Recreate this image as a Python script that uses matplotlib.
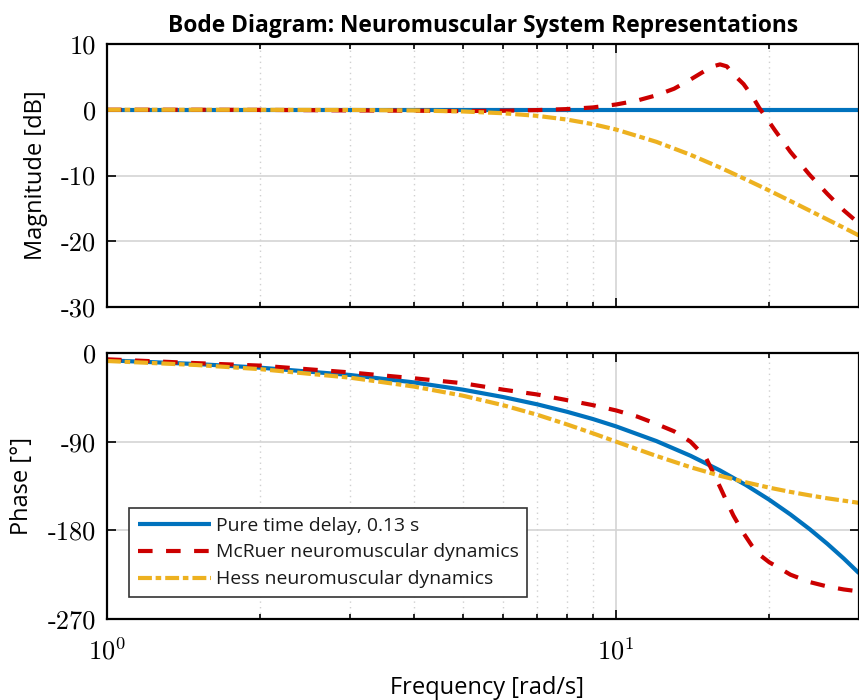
import matplotlib
matplotlib.use('Agg')
import matplotlib.pyplot as plt
from matplotlib.ticker import FixedLocator, NullFormatter, FixedFormatter
from matplotlib.font_manager import FontProperties

# ---------------- data ----------------
freq_delay = [1, 1.5, 2, 3, 4, 5, 6, 7, 8, 9, 10, 12, 14, 16, 18, 20, 22, 24, 26, 28, 30]
mag_delay = [0.0, 0.0, 0.0, 0.0, 0.0, 0.0, 0.0, 0.0, 0.0, 0.0, 0.0, 0.0, 0.0, 0.0,
             0.0, 0.0, 0.0, 0.0, 0.0, 0.0, 0.0]
phase_delay = [-7.4, -11.2, -14.9, -22.3, -29.8, -37.2, -44.7, -52.1, -59.6, -67.0, -74.5,
               -89.4, -104.3, -119.2, -134.1, -149.0, -163.9, -178.8, -193.7, -208.6, -223.5]

freq_mcruer = [1, 1.5, 2, 3, 4, 5, 6, 7, 8, 9, 10, 11, 12, 13, 14, 15, 15.5, 16, 16.5, 17,
               17.8, 18.5, 19.1, 20, 20.5, 22, 24, 26, 28, 30]
mag_mcruer = [0.0, 0.0, -0.02, -0.1, -0.15, -0.2, -0.15, -0.05, 0.1, 0.35, 0.8, 1.4, 2.2,
              3.2, 4.6, 6.0, 6.6, 6.9, 6.6, 5.4, 3.9, 2.1, 0.3, -1.9, -3.1, -6.4, -9.9,
              -12.8, -15.3, -17.3]
phase_mcruer = [-6.4, -10.3, -12.8, -19.7, -25.6, -30.7, -37.2, -42.1, -47.8, -52.9, -58.3,
                -64.5, -72.0, -79.5, -90.0, -106.0, -121.0, -136.0, -151.0, -165.0, -183.0,
                -196.0, -204.5, -212.5, -215.6, -225.0, -232.5, -237.0, -240.0, -242.0]

freq_hess = [1, 1.5, 2, 3, 4, 5, 6, 7, 8, 9, 10, 12, 14, 16, 18, 20, 22, 24, 26, 28, 30]
mag_hess = [0.0, 0.0, -0.01, -0.03, -0.11, -0.26, -0.53, -0.93, -1.49, -2.19, -3.01, -4.88,
            -6.85, -8.78, -10.61, -12.30, -13.88, -15.34, -16.69, -17.94, -19.13]
phase_hess = [-8.1, -12.2, -16.4, -25.0, -34.0, -43.3, -53.0, -62.7, -72.4, -81.5, -90.0,
              -104.5, -115.9, -124.6, -131.3, -136.7, -141.0, -144.5, -147.5, -149.9, -152.1]

series_labels = ['Pure time delay, 0.13 s', 'McRuer neuromuscular dynamics',
                 'Hess neuromuscular dynamics']
mag_ticks = [-30, -20, -10, 0, 10]
mag_ticklabels = ['-30', '-20', '-10', '0', '10']
phase_ticks = [-270, -180, -90, 0]
phase_ticklabels = ['-270', '-180', '-90', '0']
x_ticks = [1, 10]
x_ticklabels = [r'$10^{0}$', r'$10^{1}$']
minor_x = [2, 3, 4, 5, 6, 7, 8, 9, 20, 30]

title_text = 'Bode Diagram: Neuromuscular System Representations'
mag_label = 'Magnitude [dB]'
phase_label = 'Phase [°]'
freq_label = 'Frequency [rad/s]'

# ---------------- style ----------------
plt.rcParams['mathtext.fontset'] = 'cm'
plt.rcParams['lines.scale_dashes'] = False
sans = ['Open Sans', 'DejaVu Sans']
C_BLUE = '#0072BD'
C_RED = '#CC0000'
C_ORANGE = '#EDB120'
LW = 3.0
DASH_RED = (10.5, 9.7)
DASH_ORANGE = (10.0, 2.7, 4.0, 2.9)

fig = plt.figure(figsize=(8.59, 7.0), dpi=100)
W, H = 859.0, 700.0
renderer = fig.canvas.get_renderer()


def size_for_width(text, target_px, weight='normal', ref_size=20.0):
    fp = FontProperties(family=sans, size=ref_size, weight=weight)
    w, _, _ = renderer.get_text_width_height_descent(text, fp, ismath=False)
    return ref_size * target_px / w


ax1 = fig.add_axes([107 / W, (H - 307) / H, 752 / W, 263 / H])
ax2 = fig.add_axes([107 / W, (H - 619) / H, 752 / W, 266 / H])

for ax in (ax1, ax2):
    ax.set_xscale('log')
    ax.set_xlim(1, 30)
    ax.xaxis.set_major_locator(FixedLocator(x_ticks))
    ax.xaxis.set_minor_locator(FixedLocator(minor_x))
    ax.xaxis.set_minor_formatter(NullFormatter())
    ax.grid(True, which='major', color='#d4d4d4', linewidth=1.2, linestyle='-')
    ax.grid(True, which='minor', axis='x', color='#d0d0d0', linewidth=1.0,
            linestyle=(0, (1, 3)))
    ax.set_axisbelow(True)
    ax.tick_params(which='both', direction='in', top=True, right=True, width=1.2,
                   color='black')
    ax.tick_params(which='major', length=6.5)
    ax.tick_params(which='minor', length=3.4)
    ax.tick_params(axis='y', pad=8)
    ax.tick_params(axis='x', pad=14)
    for sp in ax.spines.values():
        sp.set_linewidth(1.6)
        sp.set_color('black')

# magnitude
ax1.plot(freq_delay, mag_delay, color=C_BLUE, lw=LW, solid_capstyle='butt')
ax1.plot(freq_mcruer, mag_mcruer, color=C_RED, lw=LW, linestyle='--', dashes=DASH_RED,
         dash_capstyle='butt')
ax1.plot(freq_hess, mag_hess, color=C_ORANGE, lw=LW, linestyle='-.', dashes=DASH_ORANGE,
         dash_capstyle='butt')
ax1.set_ylim(-30, 10)
ax1.yaxis.set_major_locator(FixedLocator(mag_ticks))
ax1.yaxis.set_major_formatter(FixedFormatter(mag_ticklabels))
ax1.xaxis.set_major_formatter(NullFormatter())

# phase
l1, = ax2.plot(freq_delay, phase_delay, color=C_BLUE, lw=LW, solid_capstyle='butt')
l2, = ax2.plot(freq_mcruer, phase_mcruer, color=C_RED, lw=LW, linestyle='--',
               dashes=DASH_RED, dash_capstyle='butt')
l3, = ax2.plot(freq_hess, phase_hess, color=C_ORANGE, lw=LW, linestyle='-.',
               dashes=DASH_ORANGE, dash_capstyle='butt')
ax2.set_ylim(-270, 0)
ax2.yaxis.set_major_locator(FixedLocator(phase_ticks))
ax2.yaxis.set_major_formatter(FixedFormatter(phase_ticklabels))
ax2.xaxis.set_major_formatter(FixedFormatter(x_ticklabels))

for ax in (ax1, ax2):
    for lab in ax.get_yticklabels():
        lab.set_family('cmr10')
        lab.set_fontsize(19)
    for lab in ax.get_xticklabels():
        lab.set_fontsize(19)

# text sizes fitted to the reference text widths
fs_title = size_for_width(title_text, 631, weight='bold')
fs_mag = size_for_width(mag_label, 173)
fs_phase = size_for_width(phase_label, 97)
fs_freq = size_for_width(freq_label, 191)
fs_axis = (fs_mag + fs_phase + fs_freq) / 3.0
fs_leg = size_for_width(series_labels[1], 302)

ax1.set_title(title_text, family=sans, fontsize=fs_title, fontweight='bold', pad=8.5)
ax1.set_ylabel(mag_label, family=sans, fontsize=fs_axis, va='center')
ax1.yaxis.set_label_coords((36 - 107) / 752, 0.5)
ax2.set_ylabel(phase_label, family=sans, fontsize=fs_axis, va='center')
ax2.yaxis.set_label_coords((22 - 107) / 752, 0.5)
ax2.set_xlabel(freq_label, family=sans, fontsize=fs_axis, va='center')
ax2.xaxis.set_label_coords((487 - 107) / 752, (619 - 688) / 266)

leg_px = fs_leg * 100 / 72.0
leg = ax2.legend([l1, l2, l3], series_labels, loc='lower left',
                 bbox_to_anchor=((129 - 107) / 752, (619 - 597) / 266), borderaxespad=0,
                 frameon=True, fancybox=False, edgecolor='#333333', framealpha=1.0,
                 prop={'family': sans, 'size': fs_leg}, handlelength=73 / leg_px,
                 handletextpad=5 / leg_px, borderpad=0.45, labelspacing=0.46)
leg.get_frame().set_linewidth(1.2)
for t in leg.get_texts():
    t.set_color('#1a1a1a')

fig.savefig('out.png', dpi=100)
